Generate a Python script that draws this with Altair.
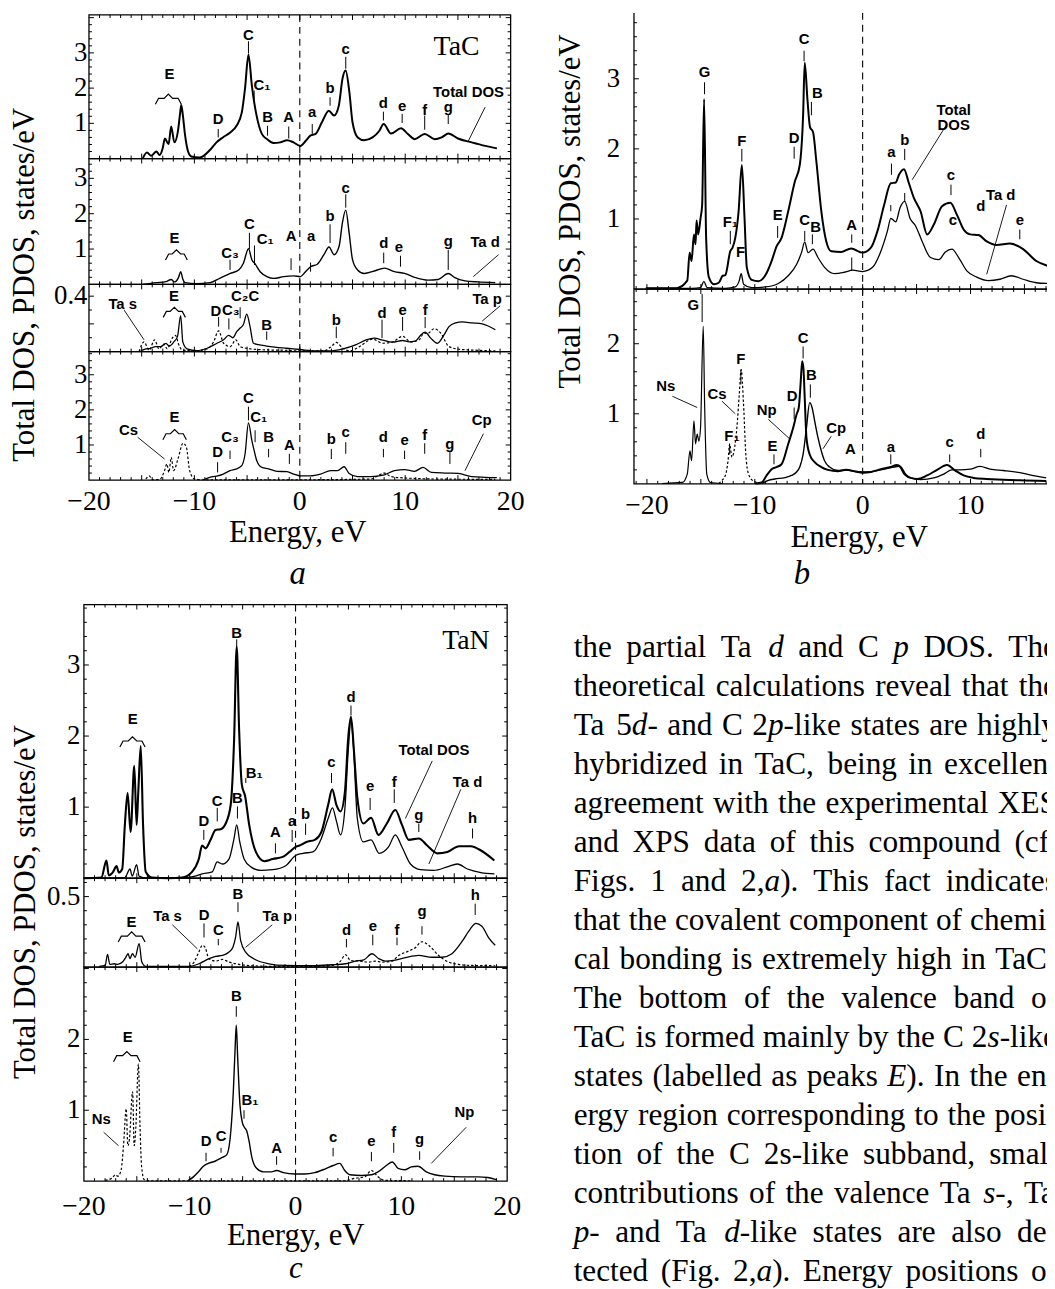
import math
import altair as alt
import pandas as pd

SERIF = "Liberation Serif"
SANS = "Liberation Sans"

# ====================== DATA (energy eV, DOS states/eV) ======================
# ---- panel a : TaC ----
TAC_TOTAL = [(-14.9,0.0),(-14.5,0.17),(-14.1,0.08),(-13.6,0.2),(-13.3,0.1),(-13.0,0.3),(-12.8,0.57),
             (-12.45,0.41),(-12.2,0.91),(-11.9,0.46),(-11.55,0.8),(-11.35,1.3),(-11.25,1.52),(-11.1,1.25),
             (-10.9,0.7),(-10.6,0.2),(-10.3,0.06),(-9.5,0.03),(-8.5,0.25),(-7.9,0.46),(-7.3,0.6),(-6.6,0.74),
             (-6.0,0.93),(-5.5,1.31),(-5.2,1.98),(-4.87,2.95),(-4.55,2.08),(-4.33,1.6),(-4.1,1.22),(-3.6,0.7),
             (-3.1,0.55),(-2.5,0.44),(-1.85,0.46),(-1.2,0.52),(-0.6,0.46),(0.05,0.36),(0.55,0.5),(1.0,0.65),
             (1.5,0.7),(2.1,1.03),(2.75,1.36),(3.25,1.22),(3.7,1.5),(4.05,2.27),(4.35,2.5),(4.7,1.89),(5.0,1.03),
             (5.5,0.6),(6.1,0.52),(6.9,0.6),(7.55,0.79),(7.95,0.98),(8.65,0.71),(9.6,0.86),(10.25,0.7),
             (10.9,0.55),(11.85,0.7),(12.8,0.55),(13.45,0.6),(14.1,0.71),(15.0,0.57),(16.3,0.46),(17.6,0.36),
             (18.7,0.29)]
TAC_TAD = [(-14.9,0.0),(-13.6,0.05),(-12.7,0.08),(-12.2,0.14),(-11.9,0.07),(-11.5,0.2),(-11.3,0.36),(-11.1,0.15),
           (-10.9,0.05),(-9.8,0.02),(-8.5,0.05),(-7.6,0.17),(-6.6,0.31),(-5.8,0.41),(-5.35,0.6),(-4.87,1.01),
           (-4.55,0.7),(-4.24,0.58),(-3.76,0.36),(-3.12,0.22),(-2.48,0.17),(-1.53,0.22),(-0.57,0.24),(0.06,0.22),
           (0.54,0.36),(1.02,0.5),(1.66,0.57),(2.29,0.84),(2.77,1.06),(3.25,0.84),(3.73,1.08),(4.04,1.74),
           (4.36,2.1),(4.68,1.46),(5.0,0.7),(5.48,0.41),(6.11,0.31),(7.07,0.38),(8.03,0.46),(8.98,0.36),
           (9.94,0.31),(10.89,0.2),(12.17,0.12),(13.12,0.14),(14.08,0.31),(14.71,0.19),(15.67,0.1),(16.94,0.07),
           (18.54,0.05)]
TAC_TAS = [(-15.25,0.0),(-14.78,0.07),(-14.3,0.01),(-13.77,0.085),(-13.36,0.02),(-12.9,0.054),(-12.58,0.02),
           (-12.1,0.097),(-11.8,0.117),(-11.48,0.05),(-11.16,0.012),(-10.06,0.005),(-8.8,0.02),(-8.18,0.07),
           (-7.7,0.15),(-7.23,0.06),(-6.6,0.036),(-6.07,0.085),(-5.66,0.036),(-4.72,0.02),(-3.14,0.012),
           (-1.57,0.01),(0.0,0.005),(2.2,0.005),(2.99,0.036),(3.46,0.066),(4.09,0.024),(4.72,0.005),(5.66,0.036),
           (6.92,0.09),(7.86,0.06),(8.8,0.07),(9.75,0.11),(10.53,0.07),(11.32,0.085),(11.79,0.134),(12.1,0.13),
           (12.74,0.165),(13.36,0.134),(14.15,0.036),(15.1,0.017),(16.67,0.01),(18.55,0.005)]
TAC_TAP = [(-15.1,0.005),(-14.6,0.02),(-14.15,0.024),(-13.7,0.036),(-13.2,0.036),(-12.7,0.06),(-12.4,0.04),
           (-11.95,0.07),(-11.6,0.11),(-11.3,0.26),(-11.1,0.07),(-10.7,0.02),(-9.75,0.007),(-8.8,0.024),
           (-7.86,0.06),(-7.23,0.085),(-6.76,0.117),(-6.35,0.1),(-5.97,0.146),(-5.66,0.17),(-5.35,0.195),
           (-5.03,0.27),(-4.72,0.18),(-4.4,0.06),(-3.93,0.05),(-3.14,0.04),(-2.2,0.03),(-1.26,0.024),(0.0,0.015),
           (1.57,0.005),(2.83,0.005),(4.09,0.02),(5.35,0.05),(6.29,0.085),(7.08,0.097),(7.86,0.083),(8.8,0.068),
           (9.75,0.08),(10.38,0.07),(11.0,0.078),(11.48,0.12),(11.89,0.14),(12.42,0.097),(13.05,0.06),
           (13.68,0.12),(14.15,0.18),(14.78,0.207),(15.41,0.214),(16.35,0.207),(17.3,0.2),(18.55,0.158)]
TAC_CS = [(-14.6,0.03),(-14.3,0.12),(-13.95,0.01),(-13.3,0.02),(-12.83,0.27),(-12.61,0.46),(-12.42,0.22),
          (-12.2,0.65),(-11.97,0.27),(-11.56,0.6),(-11.08,1.05),(-10.76,0.94),(-10.45,0.27),(-9.97,0.03),
          (-9.17,0.01),(-6.0,0.01),(0.4,0.01),(6.75,0.03),(7.55,0.15),(8.03,0.2),(8.66,0.1),(9.94,0.06),
          (13.12,0.03),(18.54,0.02)]
TAC_CP = [(-9.17,0.01),(-8.54,0.08),(-7.9,0.11),(-7.26,0.17),(-6.62,0.27),(-5.99,0.32),(-5.51,0.41),(-5.19,0.75),
          (-4.87,1.63),(-4.55,1.13),(-4.33,0.84),(-4.08,0.55),(-3.6,0.36),(-2.96,0.32),(-2.17,0.25),(-1.21,0.24),
          (-0.57,0.17),(0.06,0.12),(1.02,0.12),(1.97,0.17),(2.93,0.27),(3.57,0.27),(4.2,0.38),(4.68,0.19),
          (5.48,0.1),(6.75,0.1),(8.03,0.15),(8.98,0.27),(9.94,0.3),(10.89,0.25),(11.69,0.36),(12.48,0.22),
          (13.76,0.2),(15.03,0.19),(16.31,0.1),(17.58,0.08),(18.69,0.07)]

# ---- panel b : carbonitride ----
TACN_TOTAL = [(-20.1,0.01),(-17.3,0.01),(-16.26,0.12),(-16.04,0.52),(-15.86,0.4),(-15.64,0.78),(-15.49,0.64),
              (-15.4,0.98),(-15.25,0.78),(-15.03,1.01),(-14.88,1.2),(-14.7,2.71),(-14.51,0.73),(-14.26,0.17),
              (-13.8,0.07),(-13.34,0.09),(-12.98,0.19),(-12.73,0.2),(-12.27,0.54),(-12.06,0.59),(-11.81,0.73),
              (-11.5,1.11),(-11.2,1.77),(-10.95,1.01),(-10.74,0.31),(-10.28,0.13),(-9.66,0.11),(-9.05,0.19),
              (-8.44,0.4),(-7.98,0.61),(-7.52,0.73),(-6.9,1.11),(-6.29,1.53),(-5.83,1.77),(-5.52,2.48),
              (-5.37,3.23),(-5.12,2.71),(-4.88,2.31),(-4.6,2.24),(-4.29,1.82),(-3.83,1.11),(-3.37,0.68),
              (-2.91,0.54),(-1.99,0.53),(-1.07,0.58),(0.0,0.52),(0.77,0.59),(1.38,0.83),(1.99,1.2),(2.61,1.51),
              (3.07,1.52),(3.37,1.63),(3.83,1.71),(4.29,1.51),(4.75,1.3),(5.37,1.11),(5.98,0.78),(6.6,0.92),
              (7.36,1.18),(8.13,1.23),(8.74,1.06),(9.36,0.85),(9.97,0.78),(10.74,0.77),(11.5,0.68),(12.42,0.63),
              (13.65,0.65),(14.88,0.57),(16.1,0.4),(17.18,0.33)]
TACN_TAD = [(-20.1,0.01),(-15.8,0.01),(-15.03,0.02),(-14.72,0.11),(-14.42,0.02),(-12.73,0.01),(-11.81,0.03),
            (-11.44,0.12),(-11.26,0.22),(-11.04,0.07),(-10.28,0.02),(-9.05,0.03),(-7.82,0.08),(-6.9,0.19),
            (-6.13,0.35),(-5.67,0.52),(-5.37,0.67),(-5.06,0.52),(-4.6,0.57),(-4.14,0.45),(-3.53,0.31),
            (-2.61,0.22),(-1.69,0.24),(-0.92,0.27),(0.0,0.25),(0.92,0.31),(1.69,0.54),(2.3,0.83),(2.61,1.01),
            (3.07,0.96),(3.47,1.16),(3.9,1.25),(4.39,1.01),(4.91,0.9),(5.52,0.68),(6.29,0.45),(7.06,0.42),
            (7.67,0.53),(8.28,0.57),(8.9,0.45),(9.66,0.26),(10.58,0.17),(11.66,0.12),(12.73,0.14),(13.8,0.19),
            (14.88,0.14),(16.1,0.09),(17.18,0.08)]
TACN_NS = [(-18.56,0.005),(-16.72,0.02),(-16.26,0.14),(-16.01,0.47),(-15.86,0.33),(-15.64,0.9),(-15.49,0.57),
           (-15.34,0.71),(-15.18,0.61),(-15.03,0.8),(-14.78,2.25),(-14.65,1.13),(-14.45,0.14),(-14.11,0.02),
           (-13.04,0.005)]
TACN_CS = [(-13.34,0.005),(-13.04,0.05),(-12.73,0.12),(-12.48,0.33),(-12.33,0.57),(-12.12,0.38),(-11.87,0.52),
           (-11.66,0.8),(-11.44,1.27),(-11.26,1.63),(-11.04,1.13),(-10.83,0.42),(-10.58,0.14),(-10.12,0.04),
           (-9.36,0.005)]
TACN_NP = [(-9.97,0.005),(-9.36,0.02),(-8.9,0.12),(-8.44,0.21),(-7.98,0.24),(-7.52,0.28),(-6.9,0.57),(-6.44,0.8),
           (-6.13,0.99),(-5.92,1.09),(-5.74,1.46),(-5.61,1.75),(-5.49,1.65),(-5.37,1.23),(-5.21,0.66),
           (-4.91,0.42),(-4.45,0.31),(-3.83,0.24),(-3.22,0.2),(-2.3,0.18),(-1.53,0.2),(-0.77,0.18),(0.0,0.16),
           (0.77,0.17),(1.69,0.21),(2.61,0.24),(3.16,0.27),(3.53,0.24),(3.99,0.13),(4.45,0.085),(5.06,0.07),
           (5.98,0.12),(6.9,0.2),(7.82,0.27),(8.59,0.19),(9.36,0.12),(10.28,0.085),(11.5,0.07),(13.04,0.06),
           (14.57,0.05),(17.02,0.04)]
TACN_CP = [(-9.36,0.005),(-8.74,0.05),(-8.13,0.07),(-7.21,0.09),(-6.6,0.12),(-6.13,0.17),(-5.83,0.24),
           (-5.52,0.42),(-5.21,0.8),(-4.91,1.16),(-4.69,1.09),(-4.45,0.9),(-4.14,0.66),(-3.83,0.47),(-3.53,0.33),
           (-3.07,0.24),(-2.3,0.19),(-1.38,0.2),(-0.46,0.17),(0.46,0.17),(1.69,0.2),(2.91,0.24),(3.37,0.25),
           (3.83,0.14),(4.45,0.085),(5.37,0.06),(6.6,0.085),(7.52,0.14),(8.28,0.2),(9.05,0.2),(9.97,0.21),
           (10.89,0.25),(11.81,0.21),(13.04,0.19),(14.57,0.16),(16.1,0.11),(17.02,0.085)]

# ---- panel c : TaN ----
TAN_TOTAL = [(-19.94,0.0),(-18.35,0.01),(-17.87,0.25),(-17.65,0.04),(-17.24,0.09),(-16.92,0.17),(-16.7,0.08),
             (-16.38,0.13),(-16.13,0.75),(-15.87,1.2),(-15.59,0.65),(-15.24,1.58),(-15.02,0.75),(-14.86,1.22),
             (-14.63,1.86),(-14.41,0.75),(-14.16,0.09),(-13.59,0.01),(-12.0,0.0),(-10.73,0.01),(-9.78,0.09),
             (-9.14,0.27),(-8.83,0.46),(-8.51,0.42),(-8.03,0.54),(-7.56,0.68),(-7.08,0.69),(-6.6,0.77),
             (-6.13,1.03),(-5.81,1.93),(-5.56,3.26),(-5.33,2.08),(-5.08,1.32),(-4.76,1.15),(-4.38,0.75),
             (-3.75,0.37),(-2.95,0.24),(-2.16,0.27),(-1.21,0.3),(-0.57,0.37),(0.0,0.44),(0.38,0.46),(1.02,0.51),
             (1.81,0.54),(2.44,0.65),(3.08,1.03),(3.46,1.25),(3.87,1.03),(4.25,0.94),(4.67,1.22),(4.98,1.98),
             (5.24,2.27),(5.52,1.79),(5.84,1.13),(6.41,0.77),(7.14,0.85),(7.84,0.61),(8.63,0.77),(9.43,0.96),
             (10.06,0.75),(10.7,0.54),(11.65,0.56),(12.44,0.46),(13.4,0.35),(14.35,0.37),(15.46,0.45),
             (16.57,0.45),(17.52,0.39),(18.79,0.25)]
TAN_TAD = [(-19.94,0.0),(-16.13,0.01),(-15.65,0.13),(-15.43,0.03),(-15.02,0.19),(-14.79,0.03),(-14.22,0.005),
           (-10.73,0.005),(-9.46,0.03),(-8.83,0.06),(-7.87,0.09),(-7.4,0.23),(-6.92,0.2),(-6.29,0.27),
           (-5.81,0.56),(-5.56,0.75),(-5.27,0.51),(-4.86,0.27),(-4.22,0.16),(-3.27,0.11),(-2.16,0.12),
           (-0.89,0.18),(0.0,0.32),(0.7,0.35),(1.65,0.37),(2.44,0.56),(3.08,0.84),(3.49,0.99),(3.87,0.8),
           (4.25,0.61),(4.67,0.99),(4.98,1.79),(5.24,2.22),(5.46,1.89),(5.84,0.84),(6.41,0.51),(7.14,0.54),
           (7.9,0.35),(8.79,0.44),(9.43,0.61),(10.06,0.44),(10.86,0.2),(11.81,0.12),(13.08,0.11),(14.35,0.16),
           (15.3,0.2),(16.25,0.13),(17.52,0.08),(18.79,0.06)]
TAN_TAS = [(-10.06,0.005),(-9.59,0.036),(-9.12,0.11),(-8.81,0.155),(-8.55,0.14),(-8.18,0.06),(-7.55,0.043),
           (-6.92,0.055),(-6.29,0.036),(-5.35,0.02),(-4.09,0.01),(-1.57,0.005),(1.57,0.005),(3.46,0.012),
           (4.25,0.043),(4.72,0.088),(5.19,0.048),(5.97,0.043),(6.92,0.036),(7.55,0.043),(8.18,0.036),
           (9.12,0.043),(9.75,0.083),(10.69,0.114),(11.32,0.138),(11.95,0.18),(12.58,0.155),(13.52,0.083),
           (14.47,0.036),(15.41,0.02),(16.67,0.012),(18.87,0.01)]
TAN_TAP = [(-18.55,0.005),(-17.99,0.012),(-17.77,0.09),(-17.55,0.02),(-17.14,0.024),(-16.82,0.02),(-16.35,0.036),
           (-16.04,0.07),(-15.82,0.095),(-15.66,0.06),(-15.41,0.095),(-15.16,0.07),(-14.78,0.167),(-14.53,0.036),
           (-14.15,0.005),(-10.06,0.005),(-9.12,0.024),(-8.18,0.06),(-7.55,0.076),(-6.92,0.083),(-6.29,0.107),
           (-5.91,0.143),(-5.66,0.214),(-5.44,0.32),(-5.19,0.19),(-4.72,0.107),(-3.77,0.052),(-2.52,0.024),
           (-0.94,0.012),(1.57,0.01),(3.46,0.017),(4.72,0.024),(5.66,0.043),(6.45,0.052),(7.23,0.095),
           (7.86,0.06),(8.49,0.043),(9.28,0.048),(10.38,0.067),(11.64,0.083),(12.89,0.07),(13.84,0.07),
           (14.78,0.095),(15.72,0.18),(16.51,0.27),(17.04,0.31),(17.61,0.29),(18.24,0.21),(18.87,0.155)]
TAN_NS = [(-17.99,0.01),(-17.36,0.04),(-17.04,0.09),(-16.79,0.07),(-16.48,0.16),(-16.26,0.5),(-16.0,1.02),
          (-15.85,0.5),(-15.7,0.59),(-15.4,1.26),(-15.25,0.5),(-15.1,0.74),(-14.85,1.65),(-14.7,0.78),
          (-14.55,0.21),(-14.3,0.02),(-13.74,0.005),(-7.92,0.005),(4.65,0.005),(5.6,0.04),(6.54,0.06),
          (7.17,0.15),(7.8,0.06),(8.43,0.01),(10.94,0.005)]
TAN_NP = [(-10.13,0.01),(-9.65,0.06),(-9.18,0.13),(-8.71,0.21),(-8.24,0.25),(-7.61,0.28),(-6.98,0.33),
          (-6.51,0.37),(-6.19,0.59),(-5.88,1.26),(-5.72,1.84),(-5.6,2.2),(-5.47,1.75),(-5.25,1.07),(-5.03,0.83),
          (-4.84,0.76),(-4.62,0.71),(-4.4,0.57),(-4.15,0.35),(-3.68,0.18),(-3.05,0.13),(-2.26,0.13),
          (-1.79,0.15),(-1.16,0.12),(-0.06,0.1),(0.88,0.1),(1.82,0.12),(2.77,0.17),(3.55,0.22),(4.18,0.25),
          (4.65,0.15),(5.13,0.09),(6.23,0.08),(7.17,0.09),(7.8,0.13),(8.58,0.22),(9.15,0.27),(9.69,0.18),
          (10.31,0.16),(10.94,0.2),(11.57,0.21),(12.36,0.13),(13.14,0.09),(14.09,0.07),(15.66,0.06),
          (17.23,0.06),(18.18,0.05),(18.96,0.02)]

# ---- peak labels (text, E, value), label ticks (E, top, bottom), leaders (E1, v1, E2, v2), braces ----
A1_LABELS = [("C",-4.87,3.52),("E",-12.36,2.41),("C₁",-3.6,2.1),("D",-7.74,1.12),("B",-3.06,1.17),
             ("A",-1.05,1.17),("a",1.18,1.31),("b",2.87,2.0),("c",4.36,3.12),("d",7.93,1.58),("e",9.71,1.5),
             ("f",11.85,1.39),("g",14.08,1.46),("Total DOS",16.0,1.89)]
A1_TICKS = [(-4.87,3.33,2.98),(-4.33,1.93,1.6),(-7.74,0.84,0.6),(-3.06,0.93,0.65),(-1.05,0.91,0.57),
            (1.18,0.98,0.7),(2.87,1.74,1.5),(4.36,2.89,2.55),(7.93,1.33,1.08),(9.71,1.27,1.01),
            (11.85,1.22,0.82),(14.08,1.24,0.98)]
A1_LEADERS = [(17.58,1.46,15.99,0.5)]
A1_BRACKETS = [(-13.7,-11.24,1.71)]

A2_LABELS = [("E",-11.88,1.3),("C₃",-6.62,0.9),("C",-4.78,1.7),("C₁",-3.28,1.27),("A",-0.83,1.36),
             ("a",1.08,1.36),("b",2.87,1.93),("c",4.36,2.74),("d",7.96,1.17),("e",9.39,1.06),
             ("g",14.08,1.22),("Ta d",17.58,1.19)]
A2_TICKS = [(-6.62,0.7,0.41),(-4.78,1.46,1.0),(-4.3,1.1,0.55),(-0.83,0.74,0.41),(1.02,0.62,0.36),
            (2.87,1.7,1.17),(4.36,2.55,2.17),(7.96,0.9,0.6),(9.55,0.81,0.5),(14.08,0.98,0.41)]
A2_LEADERS = [(18.85,0.84,16.46,0.22)]
A2_BRACKETS = [(-12.74,-10.67,0.86)]

A3_LABELS = [("Ta s",-16.8,0.34),("E",-11.95,0.40),("D",-7.95,0.29),("C₃",-6.55,0.30),("C₂C",-5.19,0.40),
             ("B",-3.14,0.195),("b",3.46,0.23),("d",7.8,0.28),("e",9.75,0.30),("f",11.89,0.30),
             ("Ta p",17.77,0.38)]
A3_TICKS = [(-7.7,0.25,0.18),(-6.73,0.24,0.16),(-5.66,0.32,0.24),(-3.14,0.146,0.085),(3.46,0.18,0.097),
            (7.8,0.23,0.097),(9.75,0.25,0.15),(11.89,0.25,0.17)]
A3_LEADERS = [(-16.67,0.30,-14.78,0.085),(19.0,0.33,17.3,0.22)]
A3_BRACKETS = [(-12.96,-10.85,0.29)]

A4_LABELS = [("Cs",-16.24,1.42),("E",-11.88,1.8),("C",-4.87,2.33),("C₁",-3.9,1.8),("C₃",-6.62,1.22),
             ("D",-7.8,0.79),("B",-2.96,1.22),("A",-0.99,1.0),("b",2.99,1.18),("c",4.36,1.37),("d",7.93,1.22),
             ("e",9.94,1.13),("f",11.85,1.27),("g",14.24,1.03),("Cp",17.26,1.7)]
A4_TICKS = [(-4.87,2.09,1.7),(-4.24,1.42,1.08),(-6.62,0.84,0.6),(-7.8,0.51,0.22),(-2.96,0.89,0.65),
            (-0.99,0.75,0.46),(2.99,0.89,0.6),(4.36,1.08,0.75),(7.93,0.89,0.65),(9.94,0.84,0.6),
            (11.85,1.05,0.75),(14.24,0.84,0.46)]
A4_LEADERS = [(-15.38,1.22,-12.83,0.6),(17.42,1.32,15.67,0.27)]
A4_BRACKETS = [(-12.99,-10.76,1.32)]

B1_LABELS = [("G",-14.66,3.1),("C",-5.43,3.56),("B",-4.2,2.8),("F",-11.2,2.11),("F₁",-12.27,0.96),
             ("F",-11.32,0.53),("D",-6.35,2.15),("E",-7.88,1.05),("C",-5.37,0.99),("B",-4.36,0.88),
             ("A",-1.01,0.92),("a",2.67,1.95),("b",3.9,2.12),("c",8.19,1.62),("c",8.37,0.99),("d",10.95,1.18),
             ("Ta d",12.8,1.34),("e",14.57,0.98),("Total\nDOS",8.44,2.56)]
B1_TICKS = [(-14.66,2.95,2.78),(-5.43,3.4,3.25),(-4.75,2.67,2.48),(-11.2,2.0,1.82),(-12.27,0.83,0.64),
            (-6.35,2.03,1.86),(-7.88,0.9,0.73),(-5.37,0.83,0.68),(-4.66,0.78,0.64),(-1.01,0.78,0.66),
            (-1.01,0.45,0.26),(2.67,1.79,1.63),(2.61,1.2,1.11),(3.9,2.0,1.84),(3.9,1.37,1.25),
            (8.19,1.49,1.34),(14.57,0.85,0.71)]
B1_LEADERS = [(7.76,2.34,4.6,1.56),(13.34,1.2,11.5,0.21)]

B2_LABELS = [("G",-15.7,2.55),("Ns",-18.25,1.39),("Cs",-13.5,1.28),("F",-11.29,1.78),("F₁",-12.12,0.68),
             ("Np",-8.9,1.06),("D",-6.53,1.25),("E",-8.37,0.54),("C",-5.52,2.08),("B",-4.75,1.55),
             ("Cp",-2.45,0.8),("A",-1.13,0.5),("a",2.61,0.52),("c",8.07,0.59),("d",10.95,0.71)]
B2_TICKS = [(-14.88,2.71,2.31),(-11.29,1.63,1.42),(-12.33,0.57,0.42),(-6.35,1.09,0.92),(-8.22,0.42,0.28),
            (-5.52,1.96,1.79),(-4.85,1.42,1.23),(2.61,0.42,0.28),(8.07,0.42,0.31),(10.95,0.5,0.38)]
B2_LEADERS = [(-17.64,1.25,-15.34,1.09),(-13.04,1.18,-11.81,1.0),(-8.74,0.92,-6.75,0.64),(-2.91,0.68,-3.68,0.5)]

C1_LABELS = [("E",-15.4,2.24),("B",-5.56,3.45),("B₁",-3.9,1.48),("C",-7.4,1.08),("D",-8.67,0.8),
             ("B",-5.49,1.13),("A",-1.9,0.65),("a",-0.32,0.8),("b",0.95,0.91),("c",3.4,1.63),("d",5.24,2.55),
             ("e",7.05,1.29),("f",9.33,1.36),("g",11.65,0.89),("h",16.73,0.84),("Total DOS",13.08,1.8),
             ("Ta d",16.25,1.36)]
C1_TICKS = [(-5.56,3.36,3.26),(-4.7,1.41,1.34),(-7.4,0.99,0.8),(-8.67,0.68,0.54),(-5.49,1.01,0.84),
            (-1.9,0.49,0.35),(-0.32,0.68,0.51),(0.95,0.77,0.61),(3.4,1.48,1.34),(5.24,2.43,2.29),
            (7.05,1.13,0.96),(9.33,1.25,1.06),(11.65,0.77,0.65),(16.73,0.7,0.56)]
C1_LEADERS = [(12.92,1.65,10.38,0.84),(15.62,1.25,12.6,0.2)]
C1_BRACKETS = [(-16.6,-14.22,1.93)]

C2_LABELS = [("E",-15.5,0.32),("Ta s",-12.1,0.36),("D",-8.65,0.37),("C",-7.3,0.26),("B",-5.44,0.52),
             ("Ta p",-1.73,0.36),("d",4.81,0.26),("e",7.3,0.29),("f",9.59,0.26),("g",11.95,0.4),("h",16.98,0.51)]
C2_TICKS = [(-8.65,0.31,0.21),(-7.3,0.2,0.155),(-5.44,0.46,0.39),(4.81,0.2,0.14),(7.3,0.23,0.155),
            (9.59,0.21,0.155),(11.95,0.29,0.23),(16.98,0.45,0.37)]
C2_LEADERS = [(-11.64,0.3,-9.28,0.13),(-2.2,0.3,-4.72,0.14)]
C2_BRACKETS = [(-16.76,-14.22,0.22)]

C3_LABELS = [("E",-15.85,2.03),("Ns",-18.36,0.87),("B",-5.6,2.61),("B₁",-4.31,1.14),("D",-8.46,0.57),
             ("C",-7.04,0.64),("A",-1.79,0.47),("c",3.55,0.62),("e",7.17,0.57),("f",9.28,0.69),
             ("g",11.73,0.59),("Np",15.97,0.97)]
C3_TICKS = [(-5.6,2.47,2.32),(-4.87,1.0,0.88),(-8.46,0.4,0.28),(-7.04,0.47,0.4),(-1.79,0.35,0.23),
            (3.55,0.47,0.35),(7.17,0.41,0.28),(9.28,0.54,0.4),(11.73,0.42,0.3)]
C3_LEADERS = [(-18.14,0.69,-16.73,0.5),(16.13,0.76,12.83,0.25)]
C3_BRACKETS = [(-17.2,-14.69,1.77)]

X_LABELS = [-20, -10, 0, 10, 20]
# paragraph lines; _x_ marks italic
PARAGRAPH = [
    "the partial Ta _d_ and C _p_ DOS. The",
    "theoretical calculations reveal that the",
    "Ta 5_d_- and C 2_p_-like states are highly",
    "hybridized in TaC, being in excellent",
    "agreement with the experimental XES",
    "and XPS data of this compound (cf.",
    "Figs. 1 and 2,_a_). This fact indicates",
    "that the covalent component of chemi-",
    "cal bonding is extremely high in TaC.",
    "The bottom of the valence band of",
    "TaC is formed mainly by the C 2_s_-like",
    "states (labelled as peaks _E_). In the en-",
    "ergy region corresponding to the posi-",
    "tion of the C 2s-like subband, small",
    "contributions of the valence Ta _s_-, Ta",
    "_p_- and Ta _d_-like states are also de-",
    "tected (Fig. 2,_a_). Energy positions of",
]

# ====================== helpers ======================
ONE = pd.DataFrame({"k": [0]})
LAYERS = []
BLACK = "black"

# Times (Liberation Serif) advance widths, 1/1000 em
_W_UP = dict(zip("ABCDEFGHIJKLMNOPQRSTUVWXYZ",
                 [722,667,667,722,611,556,722,722,333,389,722,611,889,722,722,556,722,667,556,611,722,722,944,722,722,611]))
_W_LO = dict(zip("abcdefghijklmnopqrstuvwxyz",
                 [444,500,444,500,444,333,500,500,278,278,500,278,778,500,500,500,500,333,389,278,500,500,722,500,500,444]))
_W_IT = {"a": 500, "d": 500, "p": 500, "s": 389, "E": 611}
_W_PU = {".": 250, ",": 250, "(": 333, ")": 333, "-": 333, " ": 250}


def tw(s, italic=False):
    tot = 0
    for ch in s:
        if italic and ch in _W_IT:
            tot += _W_IT[ch]
        elif ch in _W_UP:
            tot += _W_UP[ch]
        elif ch in _W_LO:
            tot += _W_LO[ch]
        elif ch.isdigit():
            tot += 500
        else:
            tot += _W_PU.get(ch, 300)
    return tot / 1000.0


def xy(pts):
    return pd.DataFrame(list(pts), columns=["E", "v"])


def fmt(v):
    return ("%g" % v).replace("-", "\u2212")


def bracket_df(brs, ppu):
    rows = []
    for k, (el, er, v) in enumerate(brs):
        d = 6.0 / ppu
        ec = (el + er) / 2
        shape = [(el, v - d), (el + 0.3, v), (ec - 0.4, v), (ec, v + 0.7 * d),
                 (ec + 0.4, v), (er - 0.3, v), (er, v - d)]
        for o, (e, y) in enumerate(shape):
            rows.append({"id": k, "o": o, "E": e, "v": y})
    return pd.DataFrame(rows)


def ptext(text, x, y, size, style="normal", angle=None, font=SERIF):
    kw = dict(text=text, font=font, fontSize=size, fontStyle=style, align="center",
              baseline="middle", color=BLACK)
    if angle:
        kw["angle"] = angle
    LAYERS.append(alt.Chart(ONE).mark_text(**kw).encode(x=alt.value(x), y=alt.value(y)))


def add_sub(L, R, T, B, xdom, ymax, curves, labels=(), pticks=(), leaders=(), brackets=(),
            ylabels=(), ymajor=1.0, yminor=0.2, ylab_x=None, xlab_y=None, open_frame=False,
            data_texts=()):
    ppu = (B - T) / ymax
    xs = alt.Scale(domain=list(xdom), range=[L, R], nice=False, zero=False)
    ys = alt.Scale(domain=[0, ymax], range=[B, T], nice=False, zero=False)

    def X(f="E"):
        return alt.X(f"{f}:Q", scale=xs, axis=None)

    def Y(f="v"):
        return alt.Y(f"{f}:Q", scale=ys, axis=None)

    rule = dict(color=BLACK, strokeWidth=1)
    for pts, sw, dash in curves:
        kw = dict(color=BLACK, strokeWidth=sw, interpolate="monotone")
        if dash:
            kw["strokeDash"] = dash
        LAYERS.append(alt.Chart(xy(pts)).mark_line(**kw).encode(x=X(), y=Y()))

    LAYERS.append(alt.Chart(pd.DataFrame({"E": [0.0]})).mark_rule(
        color=BLACK, strokeWidth=1.1, strokeDash=[7, 5]).encode(x=X(), y=alt.value(T), y2=alt.value(B)))

    if open_frame:
        LAYERS.append(alt.Chart(ONE).mark_rule(color=BLACK, strokeWidth=1.3).encode(
            x=alt.value(L), y=alt.value(T), y2=alt.value(B)))
        LAYERS.append(alt.Chart(ONE).mark_rule(color=BLACK, strokeWidth=1.3).encode(
            x=alt.value(L), x2=alt.value(R), y=alt.value(B)))
    else:
        LAYERS.append(alt.Chart(ONE).mark_rect(fillOpacity=0, stroke=BLACK, strokeWidth=1.3).encode(
            x=alt.value(L), x2=alt.value(R), y=alt.value(T), y2=alt.value(B)))

    xt = [e for e in range(math.ceil(xdom[0]), math.floor(xdom[1]) + 1) if xdom[0] < e < xdom[1]]
    for vals, ln in (([e for e in xt if e % 5 == 0], 5), ([e for e in xt if e % 5], 3)):
        dfv = pd.DataFrame({"E": vals})
        LAYERS.append(alt.Chart(dfv).mark_rule(**rule).encode(x=X(), y=alt.value(B), y2=alt.value(B - ln)))
        if not open_frame:
            LAYERS.append(alt.Chart(dfv).mark_rule(**rule).encode(x=X(), y=alt.value(T), y2=alt.value(T + ln)))
    n = int(math.floor(ymax / yminor + 1e-6))
    yv = [round(i * yminor, 4) for i in range(1, n + 1) if i * yminor < ymax - 1e-6]
    ymaj = [v for v in yv if abs(v / ymajor - round(v / ymajor)) < 1e-6 or v in ylabels]
    ymin = [v for v in yv if v not in ymaj]
    for vals, ln in ((ymaj, 5), (ymin, 3)):
        dfv = pd.DataFrame({"v": vals})
        LAYERS.append(alt.Chart(dfv).mark_rule(**rule).encode(y=Y(), x=alt.value(L), x2=alt.value(L + ln)))
        LAYERS.append(alt.Chart(dfv).mark_rule(**rule).encode(y=Y(), x=alt.value(R), x2=alt.value(R - ln)))

    if ylabels:
        LAYERS.append(alt.Chart(pd.DataFrame({"v": list(ylabels), "t": [fmt(v) for v in ylabels]})).mark_text(
            font=SERIF, fontSize=27, align="right", baseline="middle", color=BLACK
        ).encode(x=alt.value(ylab_x), y=Y(), text="t:N"))
    if xlab_y is not None:
        LAYERS.append(alt.Chart(pd.DataFrame({"E": X_LABELS, "t": [fmt(v) for v in X_LABELS]})).mark_text(
            font=SERIF, fontSize=28, align="center", baseline="middle", color=BLACK
        ).encode(x=X(), y=alt.value(xlab_y), text="t:N"))

    if labels:
        LAYERS.append(alt.Chart(pd.DataFrame(list(labels), columns=["t", "E", "v"])).mark_text(
            font=SANS, fontSize=15, fontWeight="bold", color=BLACK, lineBreak="\n", lineHeight=16
        ).encode(x=X(), y=Y(), text="t:N"))
    if pticks:
        LAYERS.append(alt.Chart(pd.DataFrame(list(pticks), columns=["E", "v1", "v2"])).mark_rule(**rule).encode(
            x=X(), y=Y("v1"), y2=alt.Y2("v2:Q")))
    if leaders:
        LAYERS.append(alt.Chart(pd.DataFrame(list(leaders), columns=["E1", "v1", "E2", "v2"])).mark_rule(
            color=BLACK, strokeWidth=0.9).encode(x=X("E1"), x2=alt.X2("E2:Q"), y=Y("v1"), y2=alt.Y2("v2:Q")))
    if brackets:
        LAYERS.append(alt.Chart(bracket_df(brackets, ppu)).mark_line(color=BLACK, strokeWidth=1.2).encode(
            x=X(), y=Y(), detail="id:N", order="o:Q"))
    for t, e, v, size in data_texts:
        LAYERS.append(alt.Chart(pd.DataFrame({"E": [e], "v": [v]})).mark_text(
            text=t, font=SERIF, fontSize=size, color=BLACK).encode(x=X(), y=Y()))


DASH = [2.5, 2]
YTITLE = "Total DOS, PDOS, states/eV"

# ---------------- panel a  (chart px = page px - 8) ----------------
AL, AR = 81.6, 506.5
add_sub(AL, AR, 2.1, 146.8, (-20, 20), 4.076, [(TAC_TOTAL, 2.0, None)], A1_LABELS, A1_TICKS, A1_LEADERS,
        A1_BRACKETS, ylabels=[1, 2, 3], ylab_x=AL - 1.5, data_texts=[("TaC", 14.87, 3.17, 28)])
add_sub(AL, AR, 146.8, 273.6, (-20, 20), 3.56, [(TAC_TAD, 1.4, None)], A2_LABELS, A2_TICKS, A2_LEADERS,
        A2_BRACKETS, ylabels=[1, 2, 3], ylab_x=AL - 1.5)
add_sub(AL, AR, 273.6, 341.3, (-20, 20), 0.485, [(TAC_TAS, 1.2, DASH), (TAC_TAP, 1.3, None)], A3_LABELS,
        A3_TICKS, A3_LEADERS, A3_BRACKETS, ylabels=[0.4], ymajor=0.2, yminor=0.1, ylab_x=AL - 1.5)
add_sub(AL, AR, 341.3, 470.8, (-20, 20), 3.66, [(TAC_CS, 1.2, DASH), (TAC_CP, 1.3, None)], A4_LABELS,
        A4_TICKS, A4_LEADERS, A4_BRACKETS, ylabels=[1, 2, 3], ylab_x=AL - 1.5, xlab_y=493.4)
ptext(YTITLE, 17, 274, 31, angle=270)
ptext("Energy, eV", 292, 524.5, 31)
ptext("a", 292, 566, 33, style="italic")

# ---------------- panel b ----------------
BL, BR = 630.8, 1078.6
add_sub(BL, BR, 0.0, 278.3, (-21.2, 20), 3.94, [(TACN_TOTAL, 2.0, None), (TACN_TAD, 1.3, None)],
        B1_LABELS, B1_TICKS, B1_LEADERS, (), ylabels=[1, 2, 3], ylab_x=BL - 14, open_frame=True)
add_sub(BL, BR, 278.3, 474.6, (-21.2, 20), 2.78,
        [(TACN_NS, 1.2, None), (TACN_CS, 1.2, DASH), (TACN_CP, 1.4, None), (TACN_NP, 2.0, None)],
        B2_LABELS, B2_TICKS, B2_LEADERS, (), ylabels=[1, 2], ylab_x=BL - 14, xlab_y=497)
ptext(YTITLE, 567, 200, 31, angle=270)
ptext("Energy, eV", 857.7, 529.5, 31)
ptext("b", 800, 565, 33, style="italic")

# ---------------- panel c ----------------
CL, CR = 76.5, 503.0
add_sub(CL, CR, 596.2, 872.0, (-20, 20), 3.85, [(TAN_TOTAL, 2.1, None), (TAN_TAD, 1.3, None)], C1_LABELS,
        C1_TICKS, C1_LEADERS, C1_BRACKETS, ylabels=[1, 2, 3], ylab_x=CL - 3.5,
        data_texts=[("TaN", 16.1, 3.33, 28)])
add_sub(CL, CR, 872.0, 961.6, (-20, 20), 0.63, [(TAN_TAS, 1.2, DASH), (TAN_TAP, 1.3, None)], C2_LABELS,
        C2_TICKS, C2_LEADERS, C2_BRACKETS, ylabels=[0.5], ymajor=0.5, yminor=0.1, ylab_x=CL - 3.5)
add_sub(CL, CR, 961.6, 1177.2, (-20, 20), 3.02, [(TAN_NS, 1.2, DASH), (TAN_NP, 1.4, None)], C3_LABELS,
        C3_TICKS, C3_LEADERS, C3_BRACKETS, ylabels=[1, 2], ylab_x=CL - 3.5, xlab_y=1203)
ptext(YTITLE, 18, 896, 31, angle=270)
ptext("Energy, eV", 290, 1232.5, 31)
ptext("c", 290, 1265.5, 31, style="italic")

# ---------------- justified paragraph ----------------
FS = 31.5
COL_EM = 487.0 / FS
rows = []
for i, line in enumerate(PARAGRAPH):
    words = line.split(" ")
    segs_per_word = []
    for w in words:
        parts = w.split("_")
        segs_per_word.append([(p, k % 2 == 1) for k, p in enumerate(parts) if p])
    natural = sum(tw(p, it) for segs in segs_per_word for p, it in segs)
    gap = (COL_EM - natural) / (len(words) - 1)
    pos = 0.0
    for segs in segs_per_word:
        for p, it in segs:
            rows.append({"xe": pos, "line": i, "t": p, "it": it})
            pos += tw(p, it)
        pos += gap
seg_df = pd.DataFrame(rows)
px_scale = alt.Scale(domain=[0, COL_EM], range=[570, 1057], nice=False, zero=False)
py_scale = alt.Scale(domain=[0, 16], range=[649, 649 + 16 * 39.3], nice=False, zero=False)
for italic in (False, True):
    LAYERS.append(alt.Chart(seg_df[seg_df["it"] == italic]).mark_text(
        align="left", baseline="alphabetic", font=SERIF, fontSize=FS, color=BLACK,
        fontStyle="italic" if italic else "normal"
    ).encode(x=alt.X("xe:Q", scale=px_scale, axis=None), y=alt.Y("line:Q", scale=py_scale, axis=None),
             text="t:N"))

chart = alt.layer(*LAYERS).resolve_scale(x="independent", y="independent").properties(
    width=1047, height=1281, padding=0, autosize=alt.AutoSizeParams(type="none"), background="white"
).configure_view(stroke=None)

chart.save("out.html", embed_options={"renderer": "svg", "actions": False})
